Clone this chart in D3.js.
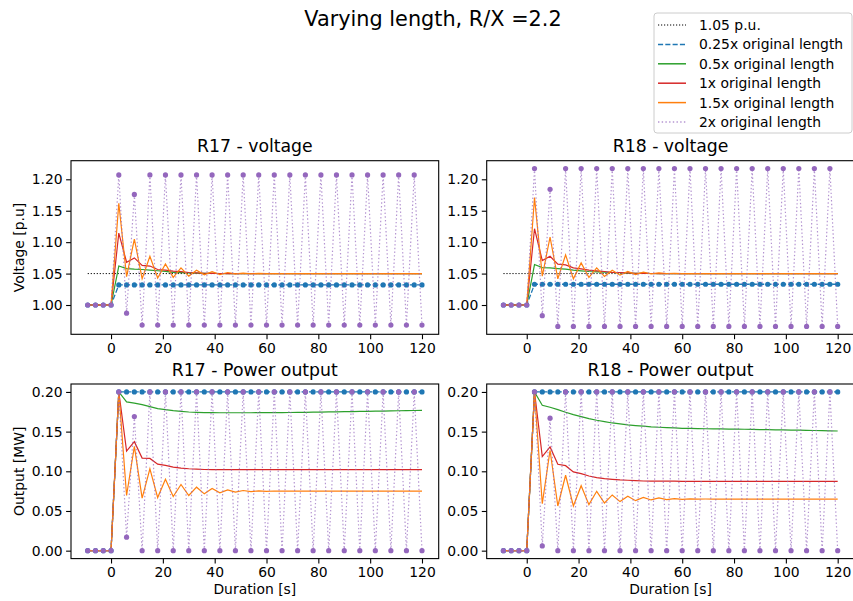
<!DOCTYPE html>
<html>
<head>
<meta charset="utf-8">
<script src="https://cdn.jsdelivr.net/npm/d3@7"></script>
<style>
body { margin: 0; background: #fff; }
text { font-family: "DejaVu Sans", sans-serif; fill: #000; }
</style>
</head>
<body>
<div id="chart"></div>
<script>
// time axis [s]
var t = [-9, -6, -3, 0, 3, 6, 9, 12, 15, 18,
  21, 24, 27, 30, 33, 36, 39, 42, 45, 48,
  51, 54, 57, 60, 63, 66, 69, 72, 75, 78,
  81, 84, 87, 90, 93, 96, 99, 102, 105, 108,
  111, 114, 117, 120];

var xTicks = [0, 20, 40, 60, 80, 100, 120];
var vTicks = [1.00, 1.05, 1.10, 1.15, 1.20];
var pTicks = [0.00, 0.05, 0.10, 0.15, 0.20];
var refLevel = 1.05;

var seriesNames = ["0.25x original length", "0.5x original length", "1x original length",
  "1.5x original length", "2x original length"];

//R17 voltage
var v17_025 = [1.000, 1.000, 1.000, 1.000,
  1.032, 1.032, 1.032, 1.032, 1.032, 1.032, 1.032, 1.032, 1.032, 1.032,
  1.032, 1.032, 1.032, 1.032, 1.032, 1.032, 1.032, 1.032, 1.032, 1.032,
  1.032, 1.032, 1.032, 1.032, 1.032, 1.032, 1.032, 1.032, 1.032, 1.032,
  1.032, 1.032, 1.032, 1.032, 1.032, 1.032, 1.032, 1.032, 1.032, 1.032];
var v17_05 = [1.000, 1.000, 1.000, 1.000,
  1.062, 1.058, 1.057, 1.0565, 1.0555, 1.0545, 1.0535, 1.052, 1.0515, 1.051,
  1.0506, 1.0504, 1.0502, 1.0501, 1.050,
  1.050, 1.050, 1.050, 1.050, 1.050, 1.050, 1.050, 1.050, 1.050, 1.050,
  1.050, 1.050, 1.050, 1.050, 1.050, 1.050, 1.050, 1.050, 1.050, 1.050,
  1.050, 1.050, 1.050, 1.050, 1.050];
var v17_1 = [1.000, 1.000, 1.000, 1.000,
  1.1145, 1.068, 1.075, 1.063, 1.062, 1.0565, 1.0555, 1.054, 1.053, 1.0517,
  1.051, 1.0505, 1.0502, 1.0501, 1.050,
  1.050, 1.050, 1.050, 1.050, 1.050, 1.050, 1.050, 1.050, 1.050, 1.050,
  1.050, 1.050, 1.050, 1.050, 1.050, 1.050, 1.050, 1.050, 1.050, 1.050,
  1.050, 1.050, 1.050, 1.050, 1.050];
var v17_15 = [1.000, 1.000, 1.000, 1.000,
  1.162, 1.045, 1.105, 1.042, 1.0776, 1.043, 1.0654, 1.044, 1.059, 1.046,
  1.0554, 1.048, 1.053, 1.0485, 1.0517, 1.0496, 1.0507, 1.0497, 1.0503, 1.0499,
  1.0501, 1.050,
  1.050, 1.050, 1.050, 1.050, 1.050, 1.050, 1.050, 1.050, 1.050, 1.050,
  1.050, 1.050, 1.050, 1.050, 1.050, 1.050, 1.050, 1.050];
var v17_2 = [1.000, 1.000, 1.000, 1.000, 1.207, 0.987, 1.176,
  0.968, 1.207, 0.968, 1.207, 0.968, 1.207, 0.968, 1.207, 0.968, 1.207,
  0.968, 1.207, 0.968, 1.207, 0.968, 1.207, 0.968, 1.207, 0.968, 1.207,
  0.968, 1.207, 0.968, 1.207, 0.968, 1.207, 0.968, 1.207, 0.968, 1.207,
  0.968, 1.207, 0.968, 1.207, 0.968, 1.207, 0.968];

//R18 voltage
var v18_025 = [1.000, 1.000, 1.000, 1.000,
  1.033, 1.033, 1.033, 1.033, 1.033, 1.033, 1.033, 1.033, 1.033, 1.033,
  1.033, 1.033, 1.033, 1.033, 1.033, 1.033, 1.033, 1.033, 1.033, 1.033,
  1.033, 1.033, 1.033, 1.033, 1.033, 1.033, 1.033, 1.033, 1.033, 1.033,
  1.033, 1.033, 1.033, 1.033, 1.033, 1.033, 1.033, 1.033, 1.033, 1.033];
var v18_05 = [1.000, 1.000, 1.000, 1.000,
  1.0644, 1.0596, 1.059, 1.058, 1.057, 1.0554, 1.0544, 1.0533, 1.0528, 1.0524,
  1.0517, 1.0513, 1.0508, 1.0505, 1.0502, 1.0501,
  1.050, 1.050, 1.050, 1.050, 1.050, 1.050, 1.050, 1.050, 1.050, 1.050,
  1.050, 1.050, 1.050, 1.050, 1.050, 1.050, 1.050, 1.050, 1.050, 1.050,
  1.050, 1.050, 1.050, 1.050];
var v18_1 = [1.000, 1.000, 1.000, 1.000,
  1.1214, 1.0707, 1.0776, 1.065, 1.0638, 1.059, 1.0575, 1.0554, 1.0544, 1.0533,
  1.052, 1.0517, 1.051, 1.0505, 1.0502, 1.0501,
  1.050, 1.050, 1.050, 1.050, 1.050, 1.050, 1.050, 1.050, 1.050, 1.050,
  1.050, 1.050, 1.050, 1.050, 1.050, 1.050, 1.050, 1.050, 1.050, 1.050,
  1.050, 1.050, 1.050, 1.050];
var v18_15 = [1.000, 1.000, 1.000, 1.000,
  1.171, 1.046, 1.108, 1.0417, 1.0797, 1.0417, 1.067, 1.0438, 1.059, 1.0454,
  1.0554, 1.0475, 1.0533, 1.0485, 1.0522, 1.0496, 1.0512, 1.0501, 1.0504, 1.0499,
  1.0501, 1.050,
  1.050, 1.050, 1.050, 1.050, 1.050, 1.050, 1.050, 1.050, 1.050, 1.050,
  1.050, 1.050, 1.050, 1.050, 1.050, 1.050, 1.050, 1.050];
var v18_2 = [1.000, 1.000, 1.000, 1.000, 1.217, 0.983, 1.184,
  0.966, 1.217, 0.966, 1.217, 0.966, 1.217, 0.966, 1.217, 0.966, 1.217,
  0.966, 1.217, 0.966, 1.217, 0.966, 1.217, 0.966, 1.217, 0.966, 1.217,
  0.966, 1.217, 0.966, 1.217, 0.966, 1.217, 0.966, 1.217, 0.966, 1.217,
  0.966, 1.217, 0.966, 1.217, 0.966, 1.217, 0.966];

//R17 power [MW]
var p17_025 = [0, 0, 0, 0,
  0.2, 0.2, 0.2, 0.2, 0.2, 0.2, 0.2, 0.2, 0.2, 0.2,
  0.2, 0.2, 0.2, 0.2, 0.2, 0.2, 0.2, 0.2, 0.2, 0.2,
  0.2, 0.2, 0.2, 0.2, 0.2, 0.2, 0.2, 0.2, 0.2, 0.2,
  0.2, 0.2, 0.2, 0.2, 0.2, 0.2, 0.2, 0.2, 0.2, 0.2];
var p17_05 = [0, 0, 0, 0,
  0.2, 0.1874, 0.186, 0.184, 0.1815, 0.179, 0.1777, 0.1764, 0.1756, 0.1747,
  0.1743, 0.174, 0.1739, 0.1738, 0.1738, 0.1738, 0.1738, 0.1738, 0.1739, 0.1739,
  0.174, 0.174, 0.1741, 0.1742, 0.1743, 0.1745, 0.1746, 0.1748, 0.1749, 0.1751,
  0.1752, 0.1754, 0.1756, 0.1758, 0.1759, 0.1761, 0.1763, 0.1764, 0.1766, 0.1767];
var p17_1 = [0, 0, 0, 0,
  0.2, 0.1255, 0.1373, 0.1166, 0.1162, 0.109, 0.1074, 0.1053, 0.104, 0.1032,
  0.1027, 0.1023, 0.1021, 0.102,
  0.102, 0.102, 0.102, 0.102, 0.102, 0.102, 0.102, 0.102, 0.102, 0.102,
  0.102, 0.102, 0.102, 0.102, 0.102, 0.102, 0.102, 0.102, 0.102, 0.102,
  0.102, 0.102, 0.102, 0.102, 0.102, 0.102];
var p17_15 = [0, 0, 0, 0,
  0.2, 0.0695, 0.1314, 0.0661, 0.1032, 0.0669, 0.0901, 0.0682, 0.0834, 0.0695,
  0.080, 0.0716, 0.0783, 0.0728, 0.0766, 0.0737, 0.0758, 0.0745, 0.0754, 0.0748,
  0.0752, 0.0749, 0.0751, 0.075,
  0.075, 0.075, 0.075, 0.075, 0.075, 0.075, 0.075, 0.075, 0.075, 0.075,
  0.075, 0.075, 0.075, 0.075, 0.075, 0.075];
var p17_2 = [0, 0, 0, 0, 0.2, 0.017, 0.169,
  0, 0.2, 0, 0.2, 0, 0.2, 0, 0.2, 0, 0.2,
  0, 0.2, 0, 0.2, 0, 0.2, 0, 0.2, 0, 0.2,
  0, 0.2, 0, 0.2, 0, 0.2, 0, 0.2, 0, 0.2,
  0, 0.2, 0, 0.2, 0, 0.2, 0];

//R18 power [MW]
var p18_025 = [0, 0, 0, 0,
  0.2, 0.2, 0.2, 0.2, 0.2, 0.2, 0.2, 0.2, 0.2, 0.2,
  0.2, 0.2, 0.2, 0.2, 0.2, 0.2, 0.2, 0.2, 0.2, 0.2,
  0.2, 0.2, 0.2, 0.2, 0.2, 0.2, 0.2, 0.2, 0.2, 0.2,
  0.2, 0.2, 0.2, 0.2, 0.2, 0.2, 0.2, 0.2, 0.2, 0.2];
var p18_05 = [0, 0, 0, 0,
  0.2, 0.1832, 0.1807, 0.1777, 0.1744, 0.1714, 0.1689, 0.1664, 0.1643, 0.1626,
  0.1609, 0.1597, 0.1584, 0.1576, 0.1568, 0.1559, 0.1555, 0.155, 0.1546, 0.1542,
  0.154, 0.1538, 0.1536, 0.1535, 0.1534, 0.1532, 0.1531, 0.153, 0.1528, 0.1525,
  0.1524, 0.1522, 0.1521, 0.152, 0.1519, 0.1516, 0.1514, 0.1512, 0.151, 0.1508];
var p18_1 = [0, 0, 0, 0,
  0.2, 0.1185, 0.1307, 0.1088, 0.1071, 0.0992, 0.097, 0.0941, 0.092, 0.0908,
  0.0899, 0.0891, 0.0887, 0.0882, 0.0878, 0.0877, 0.0876, 0.0875, 0.0875, 0.0874,
  0.0873, 0.0873, 0.0873, 0.0873, 0.0873, 0.0873, 0.0873, 0.0873, 0.0873, 0.0873,
  0.0872, 0.0872, 0.0872, 0.0872, 0.0872, 0.0872, 0.0872, 0.0872, 0.0872, 0.0872];
var p18_15 = [0, 0, 0, 0,
  0.2, 0.0592, 0.1265, 0.0563, 0.095, 0.0563, 0.0819, 0.058, 0.0748, 0.0601,
  0.0702, 0.0618, 0.0685, 0.063, 0.0672, 0.0639, 0.0664, 0.0643, 0.0655, 0.0647,
  0.0652, 0.065, 0.0651,
  0.065, 0.065, 0.065, 0.065, 0.065, 0.065, 0.065, 0.065, 0.065, 0.065,
  0.065, 0.065, 0.065, 0.065, 0.065, 0.065, 0.065];
var p18_2 = [0, 0, 0, 0, 0.2, 0.006, 0.167,
  0, 0.2, 0, 0.2, 0, 0.2, 0, 0.2, 0, 0.2,
  0, 0.2, 0, 0.2, 0, 0.2, 0, 0.2, 0, 0.2,
  0, 0.2, 0, 0.2, 0, 0.2, 0, 0.2, 0, 0.2,
  0, 0.2, 0, 0.2, 0, 0.2, 0];

// styles (matplotlib tab10 look)
var styles = [
  {color: "#1f77b4", dash: "5.1,2.2", width: 1.3, marker: true, opacity: 1},
  {color: "#2ca02c", dash: null, width: 1.2, marker: false, opacity: 1},
  {color: "#d62728", dash: null, width: 1.2, marker: false, opacity: 1},
  {color: "#ff7f0e", dash: null, width: 1.2, marker: false, opacity: 1},
  {color: "#9467bd", dash: "1.4,2.3", width: 1.2, marker: true, opacity: 0.7}
];

var W = 853, H = 601;
var svg = d3.select("#chart").append("svg").
  attr("width", W).
  attr("height", H);

var panels = [
  {x0: 71, x1: 438.7, y0: 160.7, y1: 334.3, ydom: [0.9534, 1.2296], ticks: vTicks,
   title: "R17 - voltage", ylabel: "Voltage [p.u]", xlabel: null, ref: true,
   series: [v17_025, v17_05, v17_1, v17_15, v17_2]},
  {x0: 486.7, x1: 854.4, y0: 160.7, y1: 334.3, ydom: [0.9534, 1.2296], ticks: vTicks,
   title: "R18 - voltage", ylabel: null, xlabel: null, ref: true,
   series: [v18_025, v18_05, v18_1, v18_15, v18_2]},
  {x0: 71, x1: 438.7, y0: 384, y1: 558.6, ydom: [-0.01, 0.21], ticks: pTicks,
   title: "R17 - Power output", ylabel: "Output [MW]", xlabel: "Duration [s]", ref: false,
   series: [p17_025, p17_05, p17_1, p17_15, p17_2]},
  {x0: 486.7, x1: 854.4, y0: 384, y1: 558.6, ydom: [-0.01, 0.21], ticks: pTicks,
   title: "R18 - Power output", ylabel: null, xlabel: "Duration [s]", ref: false,
   series: [p18_025, p18_05, p18_1, p18_15, p18_2]}
];

var fs = 13.9;

panels.forEach(function(p, k) {
  var x = d3.scaleLinear().domain([-15.45, 126.45]).range([p.x0, p.x1]);
  var y = d3.scaleLinear().domain(p.ydom).range([p.y1, p.y0]);
  var g = svg.append("g");

  g.append("clipPath").attr("id", "clip" + k).
    append("rect").
    attr("x", p.x0).attr("y", p.y0).
    attr("width", p.x1 - p.x0).attr("height", p.y1 - p.y0);

  var plot = g.append("g").attr("clip-path", "url(#clip" + k + ")");
  var line = d3.line().x(function(d, i) { return x(t[i]); }).y(function(d) { return y(d); });

  //reference line
  if (p.ref) {
    plot.append("path").
      datum(t.map(function() { return refLevel; })).
      attr("d", line).
      attr("fill", "none").
      attr("stroke", "#000").
      attr("stroke-width", 1).
      attr("stroke-dasharray", "1.2,1.8");
  }

  for (var s = 0; s < p.series.length; s++) {
    var st = styles[s];
    var path = plot.append("path").
      datum(p.series[s]).
      attr("d", line).
      attr("fill", "none").
      attr("stroke", st.color).
      attr("stroke-width", st.width).
      attr("stroke-opacity", st.opacity);
    if (st.dash) path.attr("stroke-dasharray", st.dash);
    if (st.marker) {
      plot.selectAll(null).
        data(p.series[s]).
        enter().append("circle").
        attr("cx", function(d, i) { return x(t[i]); }).
        attr("cy", function(d) { return y(d); }).
        attr("r", 2.6).
        attr("fill", st.color);
    }
  }

  //axes
  var ax = g.append("g").
    attr("transform", "translate(0," + p.y1 + ")").
    call(d3.axisBottom(x).tickValues(xTicks).tickSize(4.9).tickPadding(3.5));
  var ay = g.append("g").
    attr("transform", "translate(" + p.x0 + ",0)").
    call(d3.axisLeft(y).tickValues(p.ticks).tickFormat(d3.format(".2f")).tickSize(4.9).tickPadding(3.5));
  [ax, ay].forEach(function(a) {
    a.select(".domain").remove();
    a.selectAll("line").attr("stroke", "#000").attr("stroke-width", 1.1);
    a.selectAll("text").
      attr("font-family", "DejaVu Sans, sans-serif").
      attr("font-size", fs).
      attr("fill", "#000");
  });

  //spines
  g.append("rect").
    attr("x", p.x0).attr("y", p.y0).
    attr("width", p.x1 - p.x0).attr("height", p.y1 - p.y0).
    attr("fill", "none").
    attr("stroke", "#000").
    attr("stroke-width", 1.1);

  g.append("text").
    attr("x", (p.x0 + p.x1) / 2).
    attr("y", p.y0 - 8.5).
    attr("text-anchor", "middle").
    attr("font-size", 17.3).
    text(p.title);

  if (p.ylabel) {
    g.append("text").
      attr("transform", "translate(" + 24 + "," + (p.y0 + p.y1) / 2 + ") rotate(-90)").
      attr("text-anchor", "middle").
      attr("font-size", fs).
      text(p.ylabel);
  }
  if (p.xlabel) {
    g.append("text").
      attr("x", (p.x0 + p.x1) / 2).
      attr("y", 594).
      attr("text-anchor", "middle").
      attr("font-size", fs).
      text(p.xlabel);
  }
});

//suptitle
svg.append("text").
  attr("x", 433).
  attr("y", 25.5).
  attr("text-anchor", "middle").
  attr("font-size", 20.8).
  text("Varying length, R/X =2.2");

//legend
var leg = svg.append("g");
leg.append("rect").
  attr("x", 654).attr("y", 13).
  attr("width", 198).attr("height", 120).
  attr("rx", 3).
  attr("fill", "#fff").attr("fill-opacity", 0.8).
  attr("stroke", "#ccc").attr("stroke-width", 1);

var legItems = [{name: "1.05 p.u.", color: "#000", dash: "1.2,1.8", opacity: 1}];
for (var s = 0; s < seriesNames.length; s++) {
  legItems.push({name: seriesNames[s], color: styles[s].color, dash: styles[s].dash, opacity: styles[s].opacity});
}
for (var i = 0; i < legItems.length; i++) {
  var yy = 25 + i * 19.4;
  var l = leg.append("line").
    attr("x1", 658).attr("x2", 686).
    attr("y1", yy).attr("y2", yy).
    attr("stroke", legItems[i].color).
    attr("stroke-width", i == 0 ? 1.2 : 1.5).
    attr("stroke-opacity", legItems[i].opacity);
  if (legItems[i].dash) l.attr("stroke-dasharray", legItems[i].dash);
  leg.append("text").
    attr("x", 699).
    attr("y", yy + 5).
    attr("font-size", fs).
    text(legItems[i].name);
}
</script>
</body>
</html>
